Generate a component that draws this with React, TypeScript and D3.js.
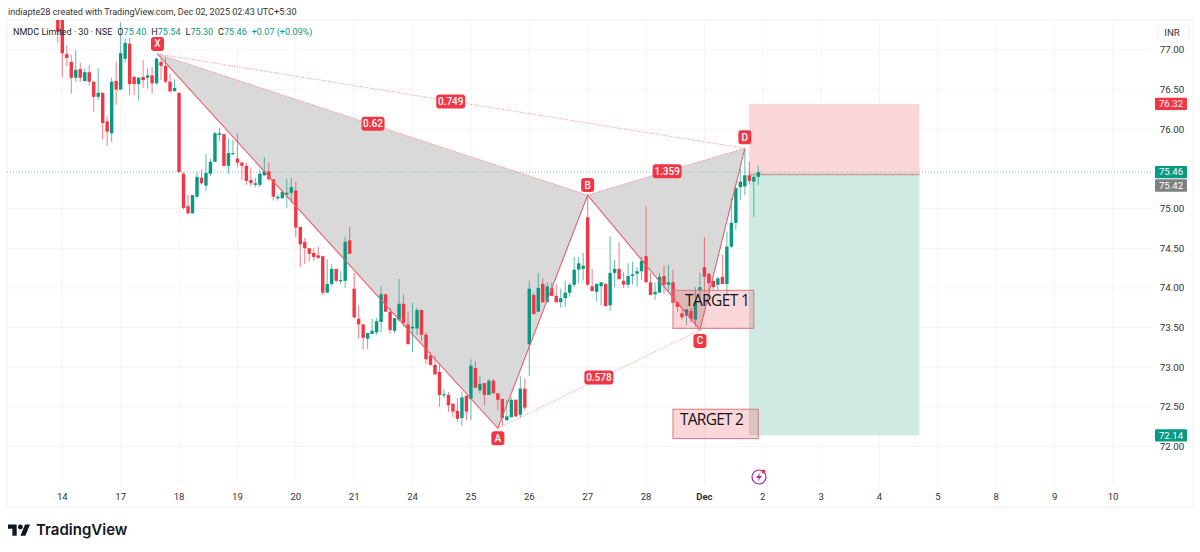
import React from 'react';
import * as d3 from 'd3';

// 30 minute bars
const opens = [77.45,77.45,76.95,76.85,76.65,76.76,76.61,76.72,76.60,76.41,76.46,76.10,75.95,76.61,76.50,76.89,77.08,76.66,76.57,76.66,76.65,76.68,76.58,76.85,76.80,76.60,76.48,
  76.46,75.44,75.03,74.94,75.15,75.39,75.29,75.44,75.59,75.93,75.94,75.54,75.69,75.63,75.58,75.54,75.36,75.30,75.30,75.42,75.47,75.37,75.13,75.13,75.18,75.20,
  75.23,74.77,74.58,74.50,74.44,74.41,74.40,73.94,74.05,74.24,74.09,74.09,74.60,73.99,73.61,73.54,73.36,73.42,73.44,73.57,73.92,73.70,73.46,73.60,73.80,73.54,
  73.49,73.49,73.72,73.41,73.15,73.03,72.94,72.65,72.65,72.54,72.45,72.36,72.64,72.60,72.99,72.71,72.80,72.65,72.83,72.67,72.60,72.33,72.37,72.59,72.40,72.73,
  73.29,73.91,73.70,74.05,73.82,74.00,73.90,73.82,73.87,73.94,74.04,74.23,74.24,74.89,74.02,73.95,74.02,74.05,73.78,74.19,74.24,74.09,74.04,74.15,74.18,74.21,
  74.40,74.07,73.92,73.94,74.15,74.04,74.07,73.82,73.68,73.65,73.71,73.60,73.97,74.26,74.18,74.09,74.04,74.14,74.05,74.52,74.82,75.27,75.28,75.42,75.34,75.40];
const highs = [77.50,77.50,77.06,76.94,77.00,76.84,76.77,76.81,76.60,76.77,76.46,76.16,76.65,76.85,77.35,77.15,77.15,76.68,76.66,76.87,76.77,76.79,76.91,76.89,76.90,76.70,76.63,
  76.46,75.46,75.17,75.17,75.46,75.49,75.69,75.63,75.97,76.02,75.94,75.88,75.87,75.95,75.59,75.58,75.51,75.39,75.49,75.65,75.58,75.37,75.18,75.23,75.37,75.39,
  75.34,74.77,74.63,74.50,74.50,74.52,74.40,74.36,74.30,74.24,74.21,74.65,74.77,74.19,73.78,73.54,73.43,73.61,73.62,74.02,73.92,73.75,73.62,74.11,73.92,73.70,
  73.81,73.75,73.73,73.44,73.19,73.14,73.03,72.72,72.69,72.54,72.61,72.69,72.64,73.10,73.08,72.89,72.80,72.85,72.85,72.67,72.60,72.59,72.62,72.59,72.89,72.86,
  74.09,73.94,74.19,74.12,74.07,74.07,74.05,73.99,74.09,74.07,74.39,74.39,74.44,75.15,74.24,74.06,74.07,74.06,74.65,74.35,74.58,74.20,74.31,74.33,74.26,74.39,
  75.03,74.19,74.07,74.19,74.28,74.29,74.23,73.82,73.75,73.73,73.75,74.01,74.19,74.64,74.18,74.09,74.14,74.42,74.71,75.13,75.27,75.50,75.76,75.59,75.42,75.54];
const lows = [77.09,76.66,76.80,76.45,76.60,76.60,76.60,76.55,76.22,76.37,75.87,75.79,75.84,76.31,76.50,76.84,76.43,76.43,76.36,76.52,76.51,76.45,76.56,76.62,76.58,76.46,76.48,
  75.46,74.99,74.94,74.94,75.13,75.30,75.22,75.41,75.59,75.85,75.53,75.44,75.68,75.52,75.36,75.30,75.28,75.27,75.27,75.41,75.35,75.10,75.10,75.13,75.01,75.07,
  74.64,74.26,74.30,74.33,74.34,74.36,73.91,73.94,74.02,74.07,74.05,74.00,74.43,73.61,73.36,73.22,73.23,73.42,73.41,73.44,73.70,73.42,73.43,73.57,73.51,73.29,
  73.19,73.41,73.33,73.04,73.02,72.90,72.50,72.61,72.44,72.37,72.31,72.26,72.33,72.33,72.74,72.67,72.52,72.65,72.67,72.46,72.26,72.33,72.37,72.37,72.36,72.46,
  72.89,73.67,73.70,73.81,73.82,73.90,73.81,73.75,73.76,73.89,74.01,74.06,74.10,74.02,73.96,73.83,73.78,73.77,73.71,74.01,74.11,74.00,74.00,74.04,74.01,74.10,
  74.07,73.91,73.85,73.94,73.92,73.94,73.81,73.70,73.60,73.53,73.57,73.51,73.85,73.94,73.97,73.97,73.97,74.05,73.91,74.50,74.73,75.11,75.17,75.31,74.89,75.30];
const closes = [77.23,76.96,76.90,76.65,76.75,76.65,76.72,76.60,76.41,76.46,76.08,75.97,76.60,76.50,76.96,77.09,76.57,76.57,76.65,76.62,76.68,76.58,76.89,76.80,76.60,76.48,76.52,
  75.46,75.01,74.94,75.17,75.40,75.32,75.45,75.59,75.95,75.95,75.54,75.70,75.70,75.58,75.54,75.35,75.32,75.32,75.44,75.47,75.37,75.15,75.15,75.21,75.20,75.27,
  74.76,74.55,74.50,74.43,74.39,74.38,73.94,74.05,74.24,74.09,74.10,74.58,74.43,73.63,73.54,73.37,73.43,73.46,73.58,73.92,73.70,73.47,73.62,73.80,73.56,73.29,
  73.51,73.72,73.41,73.10,73.03,72.91,72.65,72.66,72.52,72.44,72.35,72.62,72.44,73.02,72.74,72.79,72.65,72.83,72.67,72.59,72.36,72.38,72.59,72.38,72.73,72.49,
  73.99,73.67,74.00,73.82,74.02,73.90,73.82,73.87,73.94,74.04,74.23,74.31,74.28,74.04,73.96,74.05,74.07,73.77,74.19,74.24,74.11,74.04,74.15,74.17,74.21,74.34,
  74.07,73.91,73.95,74.14,74.04,74.07,73.81,73.76,73.63,73.73,73.61,73.82,74.01,74.14,74.06,74.01,74.12,74.05,74.52,74.82,75.26,75.34,75.42,75.35,75.40,75.46];

// time axis: one label per 13 bars, starting at bar 1
const dayLabels = ['14','17','18','19','20','21','24','25','26','27','28','Dec','2','3','4','5','8','9','10'];
const priceTicks = [72, 72.5, 73, 73.5, 74, 74.5, 75, 75.5, 76, 76.5, 77];
// hidden by the last price tag
const priceLabels = [72, 72.5, 73, 73.5, 74, 74.5, 75, 76, 76.5, 77];

// harmonic pattern pivots [bar, price]
const pivots: Record<string, [number, number]> = {
  X: [22.2, 76.95], A: [98, 72.23], B: [118, 75.17], C: [143, 73.47], D: [153, 75.76],
};
const ratios: [string, number, number][] = [['0.62', 70.2, 76.07], ['0.749', 87.5, 76.35], ['1.359', 135.7, 75.47], ['0.578', 120.5, 72.87]];
const entry = 75.43, stop = 76.32, target = 72.14, lastClose = 75.46;
const targets: [string, number, number, number, number][] = [
  ['TARGET 1', 137, 155, 73.97, 73.49],
  ['TARGET 2', 137, 156, 72.47, 72.10],
];

const UP = '#089981';
const DOWN = '#f23645';
const FONT = 'Roboto, "Noto Sans", sans-serif';
const pane = { left: 7, right: 1153, top: 20, bottom: 485 };

const x = d3.scaleLinear().domain([0, 156]).range([57.8, 758.3]);
const y = d3.scaleLinear().domain([72, 77]).range([446.5, 50]);
const line = d3.line<[number, number]>().x(d => x(d[0])).y(d => y(d[1]));

const PriceTag = ({ value, fill, shift = 0 }: { value: number; fill: string; shift?: number }) => (
  <g>
    <rect x={1155} y={y(value) - 6.2 + shift} width={32} height={12.4} rx={1} fill={fill} />
    <text x={1171} y={y(value) + 3.3 + shift} textAnchor="middle" fontSize={9.6} fill="#fff">{value === entry ? '75.42' : value.toFixed(2)}</text>
  </g>
);

const Badge = ({ label, cx, cy, w }: { label: string; cx: number; cy: number; w: number }) => (
  <g>
    <rect x={cx - w / 2} y={cy - 7} width={w} height={14} rx={3} fill={DOWN} />
    <text x={cx} y={cy + 3.4} textAnchor="middle" fontSize={10} fill="#fff" fontWeight={500}>{label}</text>
  </g>
);

export default function App() {
  const [xb, ya] = [pivots.X, pivots.A];
  const { B, C, D } = pivots;
  return (
    <svg width={1200} height={552} style={{ position: 'absolute', left: 0, top: 0, background: '#fff' }} fontFamily={FONT}>
      <defs>
        <clipPath id="pane"><rect x={pane.left} y={pane.top} width={pane.right - pane.left} height={pane.bottom - pane.top} /></clipPath>
      </defs>

      <rect x={7} y={20} width={1186} height={487} fill="none" stroke="#f2f2f2" />
      <text x={8} y={15} fontSize={9.05} fill="#333">indiapte28 created with TradingView.com, Dec 02, 2025 02:43 UTC+5:30</text>

      {priceTicks.map(p => <line key={p} x1={pane.left} x2={pane.right} y1={y(p)} y2={y(p)} stroke="#f5f5f5" />)}
      {dayLabels.map((d, i) => {
        const tx = x(1 + 13 * i);
        return <line key={d} x1={tx} x2={tx} y1={pane.top} y2={pane.bottom} stroke="#f5f5f5" />;
      })}

      {/* long position tool */}
      <rect x={x(153.9)} width={x(191.9) - x(153.9)} y={y(stop)} height={y(entry) - y(stop)} fill="#fcd7da" />
      <rect x={x(153.9)} width={x(191.9) - x(153.9)} y={y(entry)} height={y(target) - y(entry)} fill="#cfe9e3" />
      <line x1={x(153.9)} x2={x(191.9)} y1={y(entry)} y2={y(entry)} stroke="#c9a0a0" strokeWidth={1.5} />

      {/* pattern fill */}
      <path d={line([xb, ya, B])! + 'Z'} fill="#d9d9d9" />
      <path d={line([B, C, D])! + 'Z'} fill="#d9d9d9" />

      <line x1={pane.left} x2={pane.right} y1={y(lastClose)} y2={y(lastClose)} stroke="#7fbfb0" strokeDasharray="1 2" />

      <g clipPath="url(#pane)">
        {closes.map((c, i) => {
          const o = opens[i];
          const color = c >= o ? UP : DOWN;
          const top = y(Math.max(o, c));
          const h = Math.max(y(Math.min(o, c)) - top, 1.2);
          return (
            <g key={i}>
              <line x1={x(i)} x2={x(i)} y1={y(highs[i])} y2={y(lows[i])} stroke={color} strokeOpacity={0.65} />
              <rect x={x(i) - 1.7} y={top} width={3.4} height={h} fill={color} />
            </g>
          );
        })}
      </g>

      {/* pattern lines */}
      <path d={line([xb, ya, B, C, D])!} fill="none" stroke="#e4606f" strokeWidth={1.1} />
      <path d={line([xb, B, D])!} fill="none" stroke="#ee8e98" strokeWidth={0.9} strokeDasharray="1.5 1" />
      <path d={line([xb, D])!} fill="none" stroke="#f0808c" strokeWidth={0.9} strokeDasharray="1 1.5" />
      <path d={line([ya, C])!} fill="none" stroke="#f0808c" strokeWidth={0.9} strokeDasharray="1 1.5" />

      {targets.map(([label, x0, x1, hi, lo]) => (
        <g key={label}>
          <rect x={x(x0)} width={x(x1) - x(x0)} y={y(hi)} height={y(lo) - y(hi)} fill="#f23645" fillOpacity={0.2} stroke="#d9777f" />
          <text x={x(x0) + (label === 'TARGET 2' ? 7 : 12)} y={y(hi) + 16} fontSize={15.5} fill="#111" fontFamily='"Open Sans", sans-serif' textLength={label === 'TARGET 2' ? 64 : 65}>{label}</text>
        </g>
      ))}

      <Badge label="X" cx={x(xb[0])} cy={y(xb[1]) - 10} w={13} />
      <Badge label="A" cx={x(ya[0])} cy={y(ya[1]) + 10} w={13} />
      <Badge label="B" cx={x(B[0])} cy={y(B[1]) - 10} w={13} />
      <Badge label="C" cx={x(C[0])} cy={y(C[1]) + 11} w={13} />
      <Badge label="D" cx={x(D[0])} cy={y(D[1]) - 11} w={13} />
      {ratios.map(([label, bar, price]) => (
        <Badge key={label} label={label} cx={x(bar)} cy={y(price)} w={label.length > 4 ? 29 : 23} />
      ))}

      {/* legend */}
      <text x={13} y={34.5} fontSize={9.05} fill="#222">
        NMDC Limited · 30 · NSE
        <tspan dx={5}>O</tspan><tspan fill={UP}>75.40</tspan>
        <tspan dx={5}>H</tspan><tspan fill={UP}>75.54</tspan>
        <tspan dx={5}>L</tspan><tspan fill={UP}>75.30</tspan>
        <tspan dx={5}>C</tspan><tspan fill={UP}>75.46</tspan>
        <tspan dx={5} fill={UP}>+0.07 (+0.09%)</tspan>
      </text>

      {/* price axis */}
      <rect x={1158} y={24} width={31} height={17} rx={3} fill="#fff" stroke="#f2f2f2" />
      <text x={1172} y={36} textAnchor="middle" fontSize={9.6} fill="#333">INR</text>
      {priceLabels.map(p => <text key={p} x={1172} y={y(p) + 3.4} textAnchor="middle" fontSize={9.8} fill="#333">{p.toFixed(2)}</text>)}
      <PriceTag value={stop} fill={DOWN} />
      <PriceTag value={lastClose} fill={UP} />
      <PriceTag value={entry} fill="#808080" shift={11} />
      <PriceTag value={target} fill={UP} />

      {/* time axis */}
      {dayLabels.map((d, i) => (
        <text key={d} x={x(1 + 13 * i)} y={500} textAnchor="middle" fontSize={9.6} fontWeight={d === 'Dec' ? 700 : 400} fill="#333">{d}</text>
      ))}

      {/* flash icon */}
      <circle cx={759} cy={477} r={7} fill="#fff" stroke="#9c27b0" strokeWidth={1.2} />
      <path d="M760.5 472.5 L756 478 L759 478 L757.5 481.5 L762 476 L759 476 Z" fill="#9c27b0" />
      <circle cx={763.5} cy={471.5} r={2} fill={DOWN} />

      {/* branding */}
      <g transform="translate(8,522) scale(0.62)" fill="#131722">
        <path d="M14 22H7V11H0V4h14v18zM28 22h-8l7.5-18h8L28 22z" />
        <circle cx={20} cy={8} r={4} />
      </g>
      <text x={36} y={535} fontSize={15} fontWeight={600} fill="#131722" fontFamily="Inter, sans-serif">TradingView</text>
    </svg>
  );
}
